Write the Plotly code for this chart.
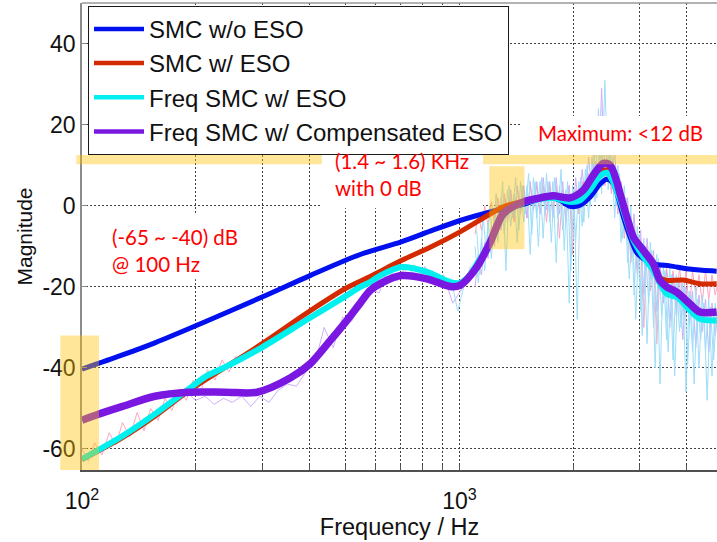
import numpy as np
import plotly.graph_objects as go

# ---------------- data ----------------
f_wo = [100, 128, 156, 212, 300, 402, 546, 701, 850, 1004, 1206, 1308, 1477, 1603, 1739, 1848,
        1964, 2088, 2220, 2359, 2457, 2553, 2612, 2719, 2833, 2951, 3072, 3265, 3614, 4002, 4400, 4804]
db_wo = [-40.3, -36.8, -33.8, -28.6, -22.5, -17.2, -12.0, -8.9, -6.0, -3.6, -1.5, -0.7, 0.4, 1.5, 2.1, 1.4,
         -0.1, 0.2, 2.2, 5.4, 6.6, 5.6, 3.3, -2.7, -7.7, -11.6, -13.0, -14.3, -14.8, -15.5, -15.9, -16.1]

f_eso = [100, 128, 156, 192, 243, 300, 402, 503, 580, 701, 850, 1004, 1206, 1308, 1477, 1603, 1770,
         1964, 2130, 2264, 2407, 2507, 2612, 2665, 2776, 2891, 3072, 3265, 3401, 3543, 3913, 4339, 4804]
db_eso = [-62.6, -57.2, -51.9, -45.6, -39.5, -34.0, -25.9, -20.2, -17.4, -13.5, -9.9, -6.4, -2.0, -0.2, 1.2, 2.0, 2.3,
          2.0, 3.9, 7.2, 8.8, 8.7, 5.6, 2.5, -3.0, -8.0, -11.5, -15.2, -17.8, -18.4, -18.3, -19.2, -19.2]

f_freq = [100, 128, 156, 192, 212, 243, 300, 402, 503, 546, 580, 617, 701, 820, 945, 1004, 1068, 1112,
          1206, 1308, 1477, 1603, 1770, 1964, 2088, 2220, 2359, 2457, 2553, 2665, 2891, 3072, 3265,
          3401, 3543, 3765, 4083, 4339, 4804]
db_freq = [-62.5, -56.8, -51.4, -45.2, -42.2, -39.5, -34.9, -27.6, -22.1, -20.0, -18.8, -17.2, -15.1, -16.3,
           -18.8, -19.0, -17.0, -14.3, -9.3, -2.2, 0.8, 1.6, 2.0, 1.0, 1.4, 4.0, 7.4, 8.2, 6.0, 1.4, -8.5,
           -12.6, -15.9, -19.2, -21.7, -22.5, -25.8, -27.9, -28.3]

f_comp = [100, 110, 128, 156, 192, 240, 291, 356, 402, 455, 503, 546, 580, 617, 701, 820, 945, 1004,
          1112, 1206, 1308, 1477, 1603, 1770, 1964, 2130, 2264, 2407, 2507, 2612, 2665, 2776, 2891,
          3072, 3265, 3401, 3543, 3765, 4083, 4339, 4804]
db_comp = [-52.9, -51.5, -49.5, -47.0, -46.0, -46.0, -46.0, -42.5, -39.0, -33.2, -28.3, -24.0, -20.9, -19.2,
           -17.2, -18.0, -19.9, -19.6, -15.1, -9.0, -1.9, 1.0, 1.8, 2.5, 2.0, 3.9, 7.6, 10.5, 10.1, 6.0,
           3.0, -2.7, -7.7, -11.0, -14.3, -18.4, -20.0, -21.3, -24.2, -26.2, -26.2]

# raw (unsmoothed) measurements, high-frequency part
raw_f = [1100, 1122, 1144, 1167, 1191, 1215, 1239, 1264, 1289, 1315,
         1341, 1368, 1395, 1423, 1452, 1481, 1510, 1540, 1571, 1603,
         1635, 1667, 1701, 1735, 1769, 1805, 1841, 1878, 1915, 1954,
         1993, 2032, 2073, 2115, 2157, 2200, 2244, 2289, 2335, 2381,
         2429, 2478, 2527, 2578, 2629, 2682, 2735, 2790, 2846, 2903,
         2961, 3020, 3080, 3142, 3205, 3269, 3334, 3401, 3469, 3538,
         3609, 3681, 3755, 3830, 3907, 3985, 4065, 4146, 4229, 4313,
         4400, 4488, 4577, 4669, 4762, 4858]
raw_freq_db = [-10, -19, -8, -16, -4, -13, -2, -9, 2, -7,
               4, -5, 3, -9, 6, -4, 5, -12, 7, -3,
               6, -8, 8, -4, 6, -14, 5, -6, 4, -24,
               5, -9, 6, -5, 9, -3, 12, 1, 24, 3,
               31, 4, 14, -3, 10, -9, 5, -14, 0, -22,
               -5, -26, -8, -34, -9, -30, -12, -44, -14, -33,
               -15, -38, -17, -31, -19, -46, -21, -36, -20, -40,
               -22, -36, -23, -42, -24, -35]
raw_eso_db = [-7, -2, -6, 0, -5, 1, -4, 2, -3, 3,
              -2, 3, -4, 4, -1, 4, -3, 5, -1, 5,
              -2, 5, -4, 5, -1, 5, -8, 4, -3, 5,
              -12, 4, -2, 6, 0, 8, 2, 11, 4, 13,
              5, 12, 3, 9, -2, 5, -8, 0, -14, -5,
              -17, -8, -30, -10, -21, -13, -34, -15, -24, -15,
              -22, -16, -25, -15, -23, -16, -26, -16, -22, -17,
              -24, -16, -23, -17, -22, -18]
raw_comp_db = [-20, -12, -17, -9, -13, -5, -10, 0, -6, 2,
               -4, 4, -3, 5, -2, 5, -3, 6, -1, 6,
               -2, 7, -1, 6, -3, 7, -2, 6, -4, 5,
               -6, 7, -1, 9, 1, 12, 3, 16, 5, 29,
               6, 20, 4, 14, 0, 6, -6, 2, -12, -2,
               -16, -6, -22, -8, -18, -11, -26, -14, -24, -16,
               -30, -17, -27, -18, -33, -20, -29, -21, -35, -22,
               -31, -23, -36, -24, -32, -24]
# second set of raw samples (between the first ones)
raw_f2 = [1111, 1133, 1155, 1179, 1203, 1227, 1251, 1276, 1302, 1328,
          1354, 1381, 1409, 1437, 1466, 1495, 1525, 1555, 1587, 1619,
          1651, 1684, 1718, 1752, 1787, 1823, 1859, 1896, 1934, 1973,
          2012, 2052, 2094, 2136, 2178, 2222, 2266, 2312, 2358, 2405,
          2453, 2502, 2552, 2603, 2655, 2708, 2762, 2818, 2874, 2932,
          2990, 3050, 3111, 3173, 3236, 3301, 3367, 3435, 3503, 3573,
          3645, 3718, 3792, 3868, 3946, 4025, 4105, 4187, 4271, 4356,
          4443, 4532, 4623, 4715, 4809]
raw_freq2_db = [-6, -17, -2, -12, 0, -8, 3, -5, 6, -16,
                5, -3, 7, -6, 5, -2, 8, -7, 6, -10,
                7, -2, 6, -9, 7, -3, 9, -11, 6, -16,
                4, -28, 7, -4, 10, 0, 14, 2, 18, 5,
                22, 6, 12, 0, 8, -8, 2, -18, -4, -28,
                -7, -32, -10, -24, -11, -40, -13, -27, -16, -36,
                -17, -42, -19, -30, -20, -39, -22, -44, -23, -33,
                -24, -48, -25, -38, -26]

# raw measurements, low-frequency part
raw_eso_low_f = [100, 104, 108, 113, 118, 123, 128, 134, 140, 146, 152, 159, 166, 173, 181,
                 189, 197, 206, 215, 225, 235, 245, 256]
raw_eso_low_db = [-60, -63, -58.5, -61.5, -56, -59, -53.5, -57, -51, -55.5, -50, -53, -47.5, -50.5, -45.5,
                  -48, -43, -46, -40.5, -43, -38, -41, -37]
raw_comp_low_f = [150, 160, 170, 180, 190, 200, 212, 224, 237, 250, 265, 280, 296, 313, 331, 350, 370,
                  392, 414, 438, 463, 490, 518, 548, 580, 613, 648, 686, 725, 767, 811, 858, 907, 960,
                  1015, 1073]
raw_comp_low_db = [-46.5, -47.5, -45.5, -47.0, -46.0, -48.0, -47.0, -49.0, -47.5, -48.5, -47.0, -49.5,
                   -47.0, -48.5, -45.5, -44.0, -44.5, -41.0, -39.0, -30.0, -35.0, -27.5, -28.5, -24.0,
                   -20.5, -21.5, -15.5, -18.5, -14.5, -18.0, -15.0, -19.5, -17.0, -24.0, -20.5, -17.0]
raw_freq_low_f = [600, 640, 680, 720, 760, 800, 850, 900, 950, 990, 1030, 1070]
raw_freq_low_db = [-17.5, -15.5, -14.0, -16.0, -14.5, -17.0, -16.0, -19.5, -18.0, -26.0, -19.5, -15.0]

names = ["SMC w/o ESO", "SMC w/ ESO", "Freq SMC w/ ESO", "Freq SMC w/ Compensated ESO"]
colors = ["#0010ee", "#d42a00", "#00f0f0", "#7a18e2"]

x_major = [100, 1000]
x_major_text = ["10<sup>2</sup>", "10<sup>3</sup>"]
x_minor = [200, 300, 400, 500, 600, 700, 800, 900, 2000, 3000, 4000]
y_tickvals = [-60, -40, -20, 0, 20, 40]
y_ticktext = ["-60", "-40", "-20", "0", "20", "40"]

# axis ranges
X0, X1 = 2.0, 3.6825        # log10(Hz)
Y0, Y1 = -65.2, 50.1        # dB

def px(f):
    return (np.log10(f) - X0) / (X1 - X0)

def py(v):
    return (v - Y0) / (Y1 - Y0)

# ---------------- figure ----------------
fig = go.Figure()

pink, lav, sky = "rgb(255,165,195)", "rgb(205,175,250)", "rgb(158,222,248)"
raw_style = dict(mode="lines", showlegend=False, hoverinfo="skip")
fig.add_trace(go.Scatter(x=raw_eso_low_f, y=raw_eso_low_db, line=dict(color=pink, width=1), **raw_style))
fig.add_trace(go.Scatter(x=raw_comp_low_f, y=raw_comp_low_db, line=dict(color=lav, width=1), **raw_style))
fig.add_trace(go.Scatter(x=raw_freq_low_f, y=raw_freq_low_db, line=dict(color=sky, width=1), **raw_style))
fig.add_trace(go.Scatter(x=raw_f, y=raw_eso_db, line=dict(color=pink, width=1), **raw_style))
fig.add_trace(go.Scatter(x=raw_f, y=raw_comp_db, line=dict(color=lav, width=1), **raw_style))
fig.add_trace(go.Scatter(x=raw_f, y=raw_freq_db, line=dict(color=sky, width=1), **raw_style))
fig.add_trace(go.Scatter(x=raw_f2, y=raw_freq2_db, line=dict(color=sky, width=1), **raw_style))

main = [(f_wo, db_wo, 5), (f_eso, db_eso, 5), (f_freq, db_freq, 6), (f_comp, db_comp, 7.5)]
for (fx, dy, w), c in zip(main, colors):
    fig.add_trace(go.Scatter(x=fx, y=dy, mode="lines", line=dict(color=c, width=w, shape="spline", smoothing=0.8),
                             showlegend=False, hoverinfo="skip"))

# legend entries
for n, c in zip(names, colors):
    fig.add_trace(go.Scatter(x=[None], y=[None], mode="lines", name=n, line=dict(color=c, width=4.5)))

gold = "rgba(255,192,0,0.4)"
shapes = [
    # highlight bands
    dict(type="rect", xref="paper", yref="paper", x0=px(87.6), x1=px(110.9), y0=py(-65.2), y1=py(-32.0),
         fillcolor=gold, line=dict(width=0), layer="above"),
    dict(type="rect", xref="paper", yref="paper", x0=px(96.6), x1=1.0, y0=py(10.3), y1=py(12.55),
         fillcolor=gold, line=dict(width=0), layer="above"),
    dict(type="rect", xref="paper", yref="paper", x0=px(1200), x1=px(1487), y0=py(-10.7), y1=py(9.8),
         fillcolor=gold, line=dict(width=0), layer="above"),
    # white text boxes
    dict(type="rect", xref="paper", yref="paper", x0=px(432), x1=px(1155), y0=py(-0.6), y1=py(16.3),
         fillcolor="white", line=dict(width=0), layer="above"),
    dict(type="rect", xref="paper", yref="paper", x0=px(1448), x1=1.0, y0=py(12.55), y1=py(22.2),
         fillcolor="white", line=dict(width=0), layer="above"),
    dict(type="rect", xref="paper", yref="paper", x0=px(111), x1=px(276), y0=py(-18.1), y1=py(-2.05),
         fillcolor="white", line=dict(width=0), layer="above"),
    # top frame line
    dict(type="line", xref="paper", yref="paper", x0=0, x1=1, y0=1, y1=1,
         line=dict(color="#9a9a9a", width=1.5), layer="above"),
]

red_font = dict(family="Lato, Carlito, sans-serif", size=20.5, color="#ff0000")
annotations = [
    dict(xref="x", yref="y", x=np.log10(463), y=7.85, text="(1.4 ~ 1.6) KHz<br>with 0 dB",
         xanchor="left", yanchor="middle", align="left", showarrow=False, font=red_font),
    dict(xref="x", yref="y", x=np.log10(1593), y=18.0, text="Maximum: &lt;12 dB",
         xanchor="left", yanchor="middle", align="left", showarrow=False, font=red_font),
    dict(xref="x", yref="y", x=np.log10(118.9), y=-10.9, text="(-65 ~ -40) dB<br>@ 100 Hz",
         xanchor="left", yanchor="middle", align="left", showarrow=False, font=red_font),
]

grid = dict(showgrid=True, gridcolor="#404040", gridwidth=1, griddash="2px,2px", zeroline=False)

fig.update_layout(
    width=717, height=542,
    margin=dict(l=82, r=0, t=3, b=72, autoexpand=False),
    paper_bgcolor="white", plot_bgcolor="white",
    font=dict(family="Liberation Sans, Arial, sans-serif", color="#111111"),
    shapes=shapes, annotations=annotations,
    legend=dict(x=(87.7 - 81.7) / 635.3, y=0.994, xanchor="left", yanchor="top",
                bgcolor="white", bordercolor="#1a1a1a", borderwidth=1,
                font=dict(size=24, color="#111111"), itemwidth=50),
    xaxis=dict(type="log", range=[X0, X1], tickvals=x_major, ticktext=x_major_text,
               ticks="inside", ticklen=5, tickcolor="#555555", ticklabelstandoff=10,
               minor=dict(tickvals=x_minor, ticks="inside", ticklen=5, tickcolor="#555555",
                          showgrid=True, gridcolor="#404040", gridwidth=1, griddash="2px,2px"),
               showline=True, linecolor="#505050", linewidth=1.5,
               tickfont=dict(size=23), automargin=False,
               title=dict(text="Frequency / Hz", font=dict(size=23.5), standoff=0), **grid),
    yaxis=dict(range=[Y0, Y1], tickvals=y_tickvals, ticktext=y_ticktext,
               ticks="inside", ticklen=5, tickcolor="#888888",
               showline=True, linecolor="#8c8c8c", linewidth=1.5,
               tickfont=dict(size=23), automargin=False,
               title=dict(text="Magnitude", font=dict(size=21), standoff=4), **grid),
)

fig.write_html("out.html", config={"displayModeBar": False},
               post_script="document.body.style.margin='0';document.body.style.padding='0';")
